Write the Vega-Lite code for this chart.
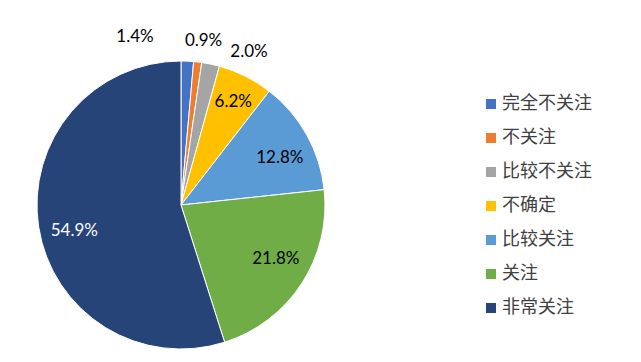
{
  "$schema": "https://vega.github.io/schema/vega-lite/v6.json",
  "width": 362,
  "height": 314,
  "autosize": "none",
  "padding": {"left": 0, "top": 48, "right": 279, "bottom": 0},
  "background": "white",
  "data": {
    "values": [
      {"id": 1, "category": "完全不关注", "value": 0.014},
      {"id": 2, "category": "不关注", "value": 0.009},
      {"id": 3, "category": "比较不关注", "value": 0.020},
      {"id": 4, "category": "不确定", "value": 0.062},
      {"id": 5, "category": "比较关注", "value": 0.128},
      {"id": 6, "category": "关注", "value": 0.218},
      {"id": 7, "category": "非常关注", "value": 0.549}
    ]
  },
  "encoding": {
    "theta": {"field": "value", "type": "quantitative", "stack": true},
    "order": {"field": "id", "type": "quantitative"}
  },
  "layer": [
    {
      "mark": {"type": "arc", "outerRadius": 144, "stroke": "white", "strokeWidth": 1},
      "encoding": {
        "color": {
          "field": "category",
          "type": "nominal",
          "sort": null,
          "scale": {
            "domain": ["完全不关注", "不关注", "比较不关注", "不确定", "比较关注", "关注", "非常关注"],
            "range": ["#4472C4", "#ED7D31", "#A5A5A5", "#FFC000", "#5B9BD5", "#70AD47", "#264478"]
          },
          "legend": {
            "title": null,
            "orient": "none",
            "legendX": 482,
            "legendY": 47,
            "padding": 0,
            "symbolType": "square",
            "symbolSize": 100,
            "symbolStrokeWidth": 0,
            "labelFont": "Noto Sans CJK SC",
            "labelFontSize": 18,
            "labelColor": "#404040",
            "labelOffset": 2,
            "rowPadding": 16,
            "labelLimit": 200
          }
        }
      }
    },
    {
      "mark": {"type": "text", "radius": 112, "font": "Lato", "fontSize": 17, "dx": 2, "dy": -3, "color": "black"},
      "encoding": {"text": {"condition": {"test": "datum.id == 4", "field": "value", "format": ".1%"}, "value": ""}}
    },
    {
      "mark": {"type": "text", "radius": 112, "font": "Lato", "fontSize": 17, "dx": 1, "dy": 8, "color": "black"},
      "encoding": {"text": {"condition": {"test": "datum.id == 5", "field": "value", "format": ".1%"}, "value": ""}}
    },
    {
      "mark": {"type": "text", "radius": 112, "font": "Lato", "fontSize": 17, "dx": 1, "dy": -7, "color": "black"},
      "encoding": {"text": {"condition": {"test": "datum.id == 6", "field": "value", "format": ".1%"}, "value": ""}}
    },
    {
      "mark": {"type": "text", "radius": 112, "font": "Lato", "fontSize": 17, "dx": 4, "dy": 9, "color": "white"},
      "encoding": {"text": {"condition": {"test": "datum.id == 7", "field": "value", "format": ".1%"}, "value": ""}}
    },
    {
      "mark": {"type": "text", "radius": 160, "font": "Lato", "fontSize": 17, "dx": -53, "dy": -8, "color": "black"},
      "encoding": {"text": {"condition": {"test": "datum.id == 1", "field": "value", "format": ".1%"}, "value": ""}}
    },
    {
      "mark": {"type": "text", "radius": 160, "font": "Lato", "fontSize": 17, "dx": 4, "dy": -5, "color": "black"},
      "encoding": {"text": {"condition": {"test": "datum.id == 2", "field": "value", "format": ".1%"}, "value": ""}}
    },
    {
      "mark": {"type": "text", "radius": 160, "font": "Lato", "fontSize": 17, "dx": 35, "dy": 4, "color": "black"},
      "encoding": {"text": {"condition": {"test": "datum.id == 3", "field": "value", "format": ".1%"}, "value": ""}}
    }
  ],
  "config": {"view": {"stroke": null}}
}
